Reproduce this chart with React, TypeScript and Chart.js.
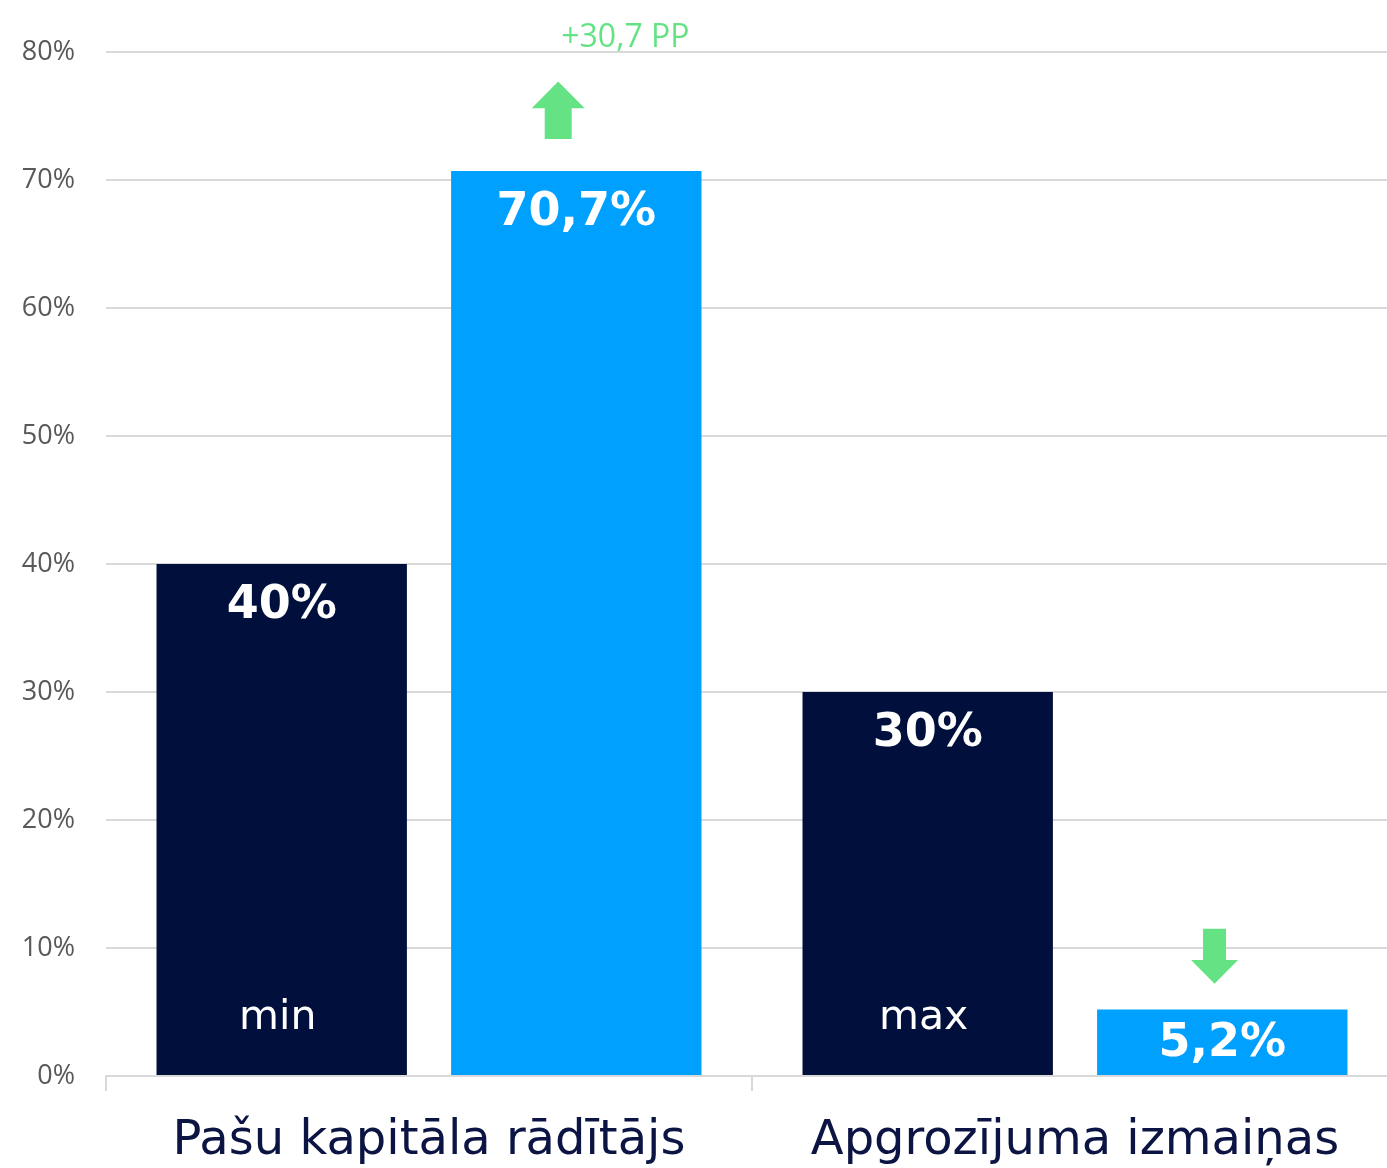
import { useEffect, useRef } from 'react';
import { Chart, registerables } from 'chart.js';

Chart.register(...registerables);

const categories = ['Pašu kapitāla rādītājs', 'Apgrozījuma izmaiņas'];
const thresholdValues = [40, 30];
const actualValues = [70.7, 5.2];
const thresholdNotes = ['min', 'max'];
const yTickMax = 80;
const yTickStep = 10;
const changeNote = { text: '+30,7 PP', category: 0.304, value: 80.4 };
const arrows = [
  { category: 0.2, dir: 'up', from: 73.2, headAt: 75.6, to: 77.7 },
  { category: 1.216, dir: 'down', from: 11.5, headAt: 9.06, to: 7.2 },
];

const NAVY = '#000F3C';
const BLUE = '#00A0FF';
const GREEN = '#65E384';
const GRID = '#D9D9D9';

const fmt = (v: number) => String(v).replace('.', ',');

const annotationPlugin = {
  id: 'annotations',
  afterDatasetsDraw(chart: any) {
    const ctx = chart.ctx as CanvasRenderingContext2D;
    const xs = chart.scales.x;
    const ys = chart.scales.y;
    ctx.save();
    chart.data.datasets.forEach((ds: any, di: number) => {
      chart.getDatasetMeta(di).data.forEach((bar: any, i: number) => {
        const { x, y, base } = bar.getProps(['x', 'y', 'base'], true);
        const v = ds.data[i] as number;
        ctx.font = 'bold 46px "DejaVu Sans"';
        ctx.fillStyle = '#FFFFFF';
        ctx.textAlign = 'center';
        ctx.textBaseline = 'alphabetic';
        const ty = Math.min(y + 54, base - 19);
        ctx.fillText(fmt(v) + '%', x, ty);
        if (di === 0) {
          ctx.font = '41px "DejaVu Sans"';
          ctx.fillText(thresholdNotes[i], x - 4, base - 46);
        }
      });
    });
    arrows.forEach((a) => {
      const cx = xs.getPixelForValue(a.category);
      const yFrom = ys.getPixelForValue(a.from);
      const yHead = ys.getPixelForValue(a.headAt);
      const yTo = ys.getPixelForValue(a.to);
      const headW = a.dir === 'up' ? 53 : 47;
      const shaftW = a.dir === 'up' ? 27 : 23;
      ctx.fillStyle = GREEN;
      ctx.beginPath();
      ctx.moveTo(cx - shaftW / 2, yFrom);
      ctx.lineTo(cx - shaftW / 2, yHead);
      ctx.lineTo(cx - headW / 2, yHead);
      ctx.lineTo(cx, yTo);
      ctx.lineTo(cx + headW / 2, yHead);
      ctx.lineTo(cx + shaftW / 2, yHead);
      ctx.lineTo(cx + shaftW / 2, yFrom);
      ctx.closePath();
      ctx.fill();
    });
    ctx.font = '32px "Open Sans"';
    ctx.fillStyle = GREEN;
    ctx.textAlign = 'center';
    ctx.textBaseline = 'alphabetic';
    ctx.fillText(changeNote.text, xs.getPixelForValue(changeNote.category), ys.getPixelForValue(changeNote.value));
    ctx.restore();
  },
};

export default function App() {
  const ref = useRef<HTMLCanvasElement | null>(null);
  useEffect(() => {
    document.body.style.margin = '0';
    const canvas = ref.current!;
    const chart = new Chart(canvas, {
      type: 'bar',
      data: {
        labels: categories,
        datasets: [
          { data: thresholdValues, backgroundColor: NAVY, barPercentage: 0.85, categoryPercentage: 0.912 },
          { data: actualValues, backgroundColor: BLUE, barPercentage: 0.85, categoryPercentage: 0.912 },
        ],
      },
      options: {
        animation: false,
        responsive: false,
        devicePixelRatio: 1,
        layout: { padding: { top: 52, right: 2, left: 0, bottom: 0 } },
        plugins: { legend: { display: false }, tooltip: { enabled: false } },
        scales: {
          x: {
            grid: { offset: true, drawOnChartArea: false, drawTicks: true, tickLength: 15, color: GRID, lineWidth: 2 },
            border: { display: true, color: GRID, width: 2 },
            ticks: {
              font: { family: 'DejaVu Sans', size: 48 },
              color: '#0B1442',
              padding: 22,
              maxRotation: 0,
              autoSkip: false,
            },
            afterFit: (s: any) => {
              s.height = 92;
            },
          },
          y: {
            min: 0,
            max: yTickMax,
            ticks: {
              stepSize: yTickStep,
              callback: (v: any) => v + '%',
              font: { family: 'Open Sans', size: 27 },
              color: '#595959',
              padding: 31,
            },
            grid: { drawTicks: false, color: GRID, lineWidth: 2 },
            border: { display: false },
            afterFit: (s: any) => {
              s.width = 106;
            },
          },
        },
      },
      plugins: [annotationPlugin],
    } as any);
    return () => chart.destroy();
  }, []);
  return (
    <div style={{ width: 1387, height: 1168, overflow: 'hidden' }}>
      <canvas ref={ref} width={1400} height={1168} style={{ display: 'block' }} />
    </div>
  );
}
